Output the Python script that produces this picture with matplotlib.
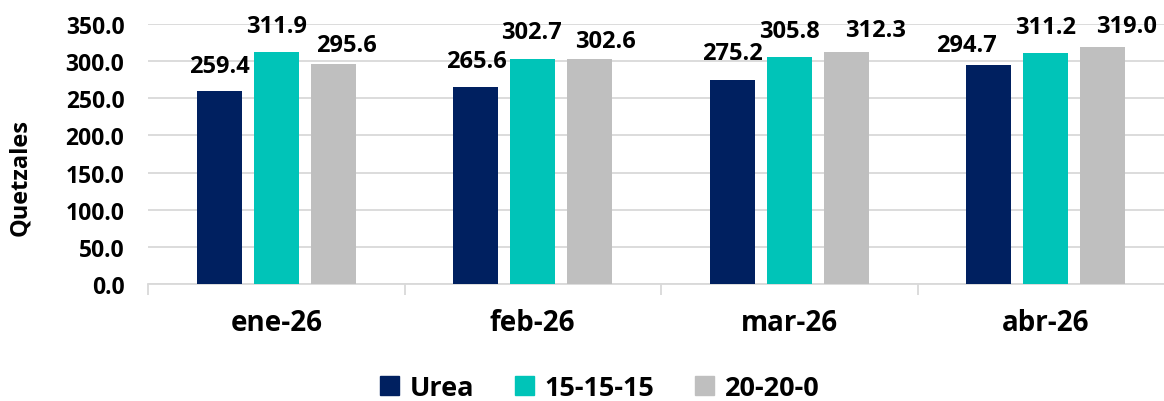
import matplotlib
matplotlib.use("Agg")
import matplotlib.pyplot as plt
import numpy as np
from matplotlib.patches import Patch

categories = ["ene-26", "feb-26", "mar-26", "abr-26"]
series_names = ["Urea", "15-15-15", "20-20-0"]
urea = [259.4, 265.6, 275.2, 294.7]
npk = [311.9, 302.7, 305.8, 311.2]
n20 = [295.6, 302.6, 312.3, 319.0]
colors = ["#002060", "#00C4B8", "#BFBFBF"]

# manual label nudges (pixels) as in the original chart: (dx, dy above bar top)
label_offsets = [
    [(0, 19.5), (1, 20), (0, 21), (-22, 14)],
    [(0, 20), (-1, 21), (0, 20), (0, 20)],
    [(13, 13.5), (16, 12), (29.5, 16.5), (23.5, 15)],
]

plt.rcParams['font.family'] = ['Open Sans', 'DejaVu Sans']
plt.rcParams['font.weight'] = 'bold'

fig = plt.figure(figsize=(11.64, 4.02), dpi=100)
ax = fig.add_axes([148/1164, 1-285/402, 1026/1164, 260/402])

x = np.arange(len(categories))
bw = 0.175
step = 0.222
for i, (vals, c) in enumerate(zip([urea, npk, n20], colors)):
    pos = x + (i - 1) * step
    ax.bar(pos, vals, width=bw, color=c, zorder=3)
    for j, (px, v) in enumerate(zip(pos, vals)):
        dx, dy = label_offsets[i][j]
        ax.annotate(f"{v:.1f}", (px, v), xytext=(dx, dy), textcoords="offset pixels",
                    ha="center", va="baseline", fontsize=17, fontweight="bold", color="#000000")

ax.set_xlim(-0.5, 3.5)
ax.set_ylim(0, 350)
ax.set_yticks(np.arange(0, 351, 50))
ax.set_yticklabels([f"{v:.1f}" for v in np.arange(0, 351, 50)], fontsize=16.5, fontweight="bold")
ax.grid(axis="y", color="#D9D9D9", linewidth=1.3, zorder=0)
ax.set_axisbelow(True)

ax.set_xticks(x)
ax.set_xticklabels(categories, fontsize=20, fontweight="bold")
ax.set_xticks(np.arange(-0.5, 3.6, 1), minor=True)
ax.tick_params(axis="x", which="major", length=0, pad=17)
ax.tick_params(axis="x", which="minor", length=8, width=1.3, color="#D9D9D9")
ax.tick_params(axis="y", length=0, pad=17)

for s in ["top", "right", "left"]:
    ax.spines[s].set_visible(False)
ax.spines["bottom"].set_color("#D9D9D9")
ax.spines["bottom"].set_linewidth(1.3)

ax.set_ylabel("Quetzales", fontsize=17, fontweight="bold")
ax.yaxis.set_label_coords(-116/1026, 107/260)

handles = [Patch(color=c) for c in colors]
fig.legend(handles, series_names, loc="center", bbox_to_anchor=(600/1164, 1-389/402),
           ncol=3, frameon=False, handlelength=0.7, handleheight=0.7,
           handletextpad=0.4, columnspacing=1.5, prop={'weight': 'bold', 'size': 19.5})

fig.savefig("out.png", dpi=100)
